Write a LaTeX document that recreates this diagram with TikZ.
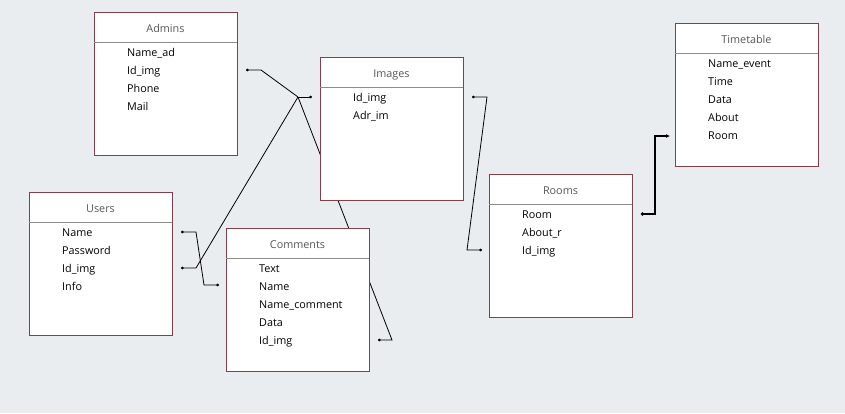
\documentclass[tikz,border=0pt]{standalone}
\usepackage{fontspec}
\setmainfont{Open Sans}
\usetikzlibrary{arrows.meta,calc}
\definecolor{bgc}{HTML}{E9EDF0}
\definecolor{tblborder}{HTML}{84404A}
\definecolor{hdrline}{HTML}{8C8C8C}
\definecolor{ttlc}{HTML}{555555}
\tikzset{
  tbl/.style={draw=tblborder, fill=white, line width=0.9pt, minimum width=143pt, minimum height=143pt, inner sep=0pt, anchor=north west},
  hdr/.style={draw=hdrline, line width=0.7pt},
  ttlstyle/.style={font=\fontsize{10.8}{12}\selectfont, text=ttlc, inner sep=0pt, anchor=base},
  fld/.style={font=\fontsize{10.8}{12}\selectfont, text=black, inner sep=0pt, anchor=base west},
  link/.style={draw=black, line width=0.8pt},
  dotend/.style={-{Circle[length=2.6pt]}},
  dotboth/.style={{Circle[length=2.6pt]}-{Circle[length=2.6pt]}},
  thicklink/.style={draw=black, line width=2.2pt, {Circle[length=3pt]}-{Latex[length=4pt,width=4pt]}}
}
\newcommand\dbtable[5]{%
  \node[tbl] (#1) at (#2,#3) {};
  \draw[hdr] (#2,#3+30) -- (#2+143,#3+30);
  \node[ttlstyle] (#1-t) at (#2+71.5,#3+20) {#4};
  \foreach \f [count=\i] in {#5} {
    \node[fld] (#1-\i) at (#2+33,#3+44+18*\i-18) {\f};
  }
}
\begin{document}
\begin{tikzpicture}[x=1pt,y=-1pt]
\fill[bgc] (0,0) rectangle (845,413);
\useasboundingbox (0,0) rectangle (845,413);

% connector points
\coordinate (admdot) at (246,70);
\coordinate (admbend) at (261,70);
\coordinate (jn) at (298,97);
\coordinate (imgdot) at (312,97);
\coordinate (usridot) at (181,268);
\coordinate (usribend) at (196,268);
\coordinate (cmtbend) at (392,340);
\coordinate (cmtdot) at (378,340);
\coordinate (usrndot) at (181,232);
\coordinate (usrnb1) at (196,232);
\coordinate (usrnb2) at (204,285);
\coordinate (cmtndot) at (219,285);
\coordinate (imgrdot) at (472,97);
\coordinate (imgrb1) at (487,97);
\coordinate (imgrb2) at (467,250);
\coordinate (roomdot) at (482,250);
\coordinate (rrdot) at (641,214);
\coordinate (rrb1) at (655,214);
\coordinate (rrb2) at (655,136);
\coordinate (ttdot) at (670,136);

% connectors (behind tables)
\draw[link, dotend] (jn) -- (imgdot);
\draw[link, {Circle[length=2.6pt]}-] (admdot) -- (admbend) -- (jn);
\draw[link, {Circle[length=2.6pt]}-] (usridot) -- (usribend) -- (jn);
\draw[link, dotend] (jn) -- (cmtbend) -- (cmtdot);
\draw[link, dotboth] (usrndot) -- (usrnb1) -- (usrnb2) -- (cmtndot);
\draw[link, dotboth] (imgrdot) -- (imgrb1) -- (imgrb2) -- (roomdot);
\draw[thicklink] (rrdot) -- (rrb1) -- (rrb2) -- (ttdot);

% tables
\dbtable{adm}{94}{12}{Admins}{Name\_ad,Id\_img,Phone,Mail}
\dbtable{img}{320}{57}{Images}{Id\_img,Adr\_im}
\dbtable{usr}{29}{192}{Users}{Name,Password,Id\_img,Info}
\dbtable{cmt}{226}{228}{Comments}{Text,Name,Name\_comment,Data,Id\_img}
\dbtable{room}{489}{174}{Rooms}{Room,About\_r,Id\_img}
\dbtable{tt}{675}{23}{Timetable}{Name\_event,Time,Data,About,Room}
\end{tikzpicture}
\end{document}
